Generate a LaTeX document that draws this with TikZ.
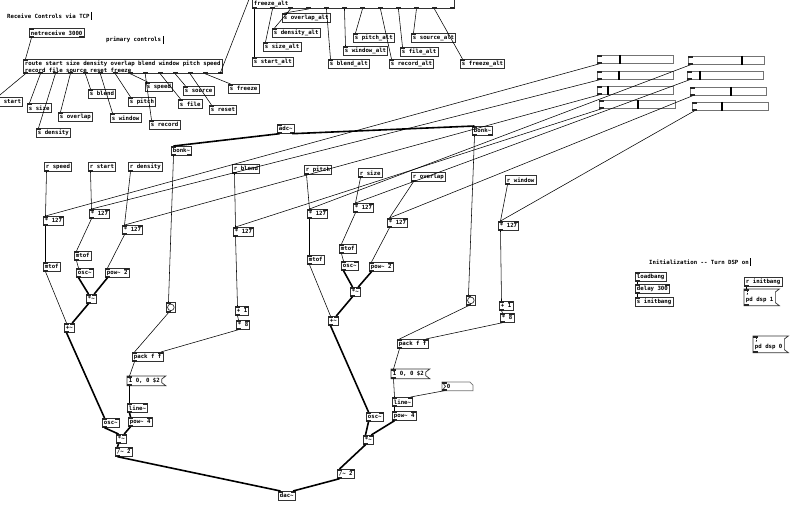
\documentclass[tikz,border=0pt]{standalone}
\usepackage{fontspec}
\newfontfamily\pdmono{DejaVu Sans Mono}
\usetikzlibrary{calc}

\newcommand\pdfont{\pdmono\bfseries\fontsize{5.7}{7}\selectfont}
\newcommand\pdtilde{\textasciitilde}

% inlets / outlets of a box, with named coordinates (box-i0, box-o0, ...)
\newcommand\pdrow[5]{%
  \pgfmathtruncatemacro\pdlast{#4-1}%
  \foreach \k in {0,...,\pdlast}{%
    \ifnum\pdlast=0 \def\pdfrac{0}\else\pgfmathsetmacro\pdfrac{\k/\pdlast}\fi
    \coordinate (#1-#3\k) at ($([xshift=2.5pt]#1.#2 west)!\pdfrac!([xshift=-2.5pt]#1.#2 east)$);
    \fill[nub] ([xshift=-2.5pt]#1-#3\k) rectangle ([xshift=2.5pt,yshift=#5]#1-#3\k);
  }}
\newcommand\pdnubs[3]{%
  \ifnum#2>0 \pdrow{#1}{north}{i}{#2}{-2pt}\fi
  \ifnum#3>0 \pdrow{#1}{south}{o}{#3}{2pt}\fi}
% message box outline
\newcommand\pdflag[1]{%
  \draw[pdline] (#1.north west) -- ([xshift=4pt]#1.north east) -- ([yshift=-3pt]#1.north east)
    -- ([yshift=3pt]#1.south east) -- ([xshift=4pt]#1.south east) -- (#1.south west) -- cycle;}

\tikzset{
  pdline/.style={draw=black!80, line width=0.7pt},
  pdobj/.style={pdline, font=\pdfont, inner xsep=1.6pt, inner ysep=0pt, minimum height=9pt, anchor=north west, align=left},
  pdmsg/.style={pdobj, draw=none},
  pdnote/.style={font=\pdfont, inner sep=0pt, anchor=west},
  pdslider/.style={draw=black!55, line width=0.8pt, minimum width=76pt, minimum height=8pt, inner sep=0pt, anchor=north west},
  nub/.style={fill=black!85},
  ctl/.style={line width=0.55pt},
  sig/.style={line width=1.6pt},
}

\begin{document}
\begin{tikzpicture}[x=1pt, y=-1pt]
\useasboundingbox (0,0) rectangle (800,505);
\fill[white] (0,0) rectangle (800,505);
\clip (0,0) rectangle (800,505);

% Comments
\node[pdnote] (ctcp) at (7,16) {Receive Controls via TCP};
\node[pdnote] (cprim) at (106,40) {primary controls};
\node[pdnote] (cinit) at (649,262) {Initialization -{}- Turn DSP on};
\foreach \c in {ctcp,cprim,cinit}
  \draw[line width=0.5pt] ([xshift=1.5pt,yshift=4pt]\c.east) -- ([xshift=1.5pt,yshift=-4pt]\c.east);

% Network input
\node[pdobj] (netr) at (29,28) {netreceive 3000}; \pdnubs{netr}{1}{2}
\node[pdobj, minimum height=14pt] (route) at (23,59) {route start size density overlap blend window pitch speed\\record file source reset freeze};
\pdnubs{route}{1}{14}
\node[pdobj, anchor=south west, minimum height=23pt] (ralt) at (252,9) {route start\_alt size\_alt density\_alt overlap\_alt blend\_alt\\window\_alt pitch\_alt record\_alt file\_alt source\_alt\\freeze\_alt};
\pdnubs{ralt}{1}{12}

% Senders
\foreach \nm/\pos/\txt in {sstart/{-5,97}/start, ssize/{27,103}/size, sdens/{36,128}/density, soverl/{58,112}/overlap,
    sblend/{88,89}/blend, swin/{110,113}/window, spitch/{128,97}/pitch, sspeed/{145,82}/speed, srec/{149,120}/record,
    sfile/{178,99}/file, ssrc/{183,86}/source, sreset/{209,105}/reset, sfrz/{228,84}/freeze}{
  \node[pdobj] (\nm) at (\pos) {s \txt}; \pdnubs{\nm}{1}{0}
}
\foreach \nm/\pos/\txt in {asstart/{252,57}/start, assize/{263,42}/size, asdens/{272,28}/density, asoverl/{282,13}/overlap,
    asblend/{328,59}/blend, aswin/{343,46}/window, aspitch/{353,33}/pitch, asrec/{389,59}/record,
    asfile/{400,47}/file, assrc/{411,33}/source, asfrz/{460,59}/freeze}{
  \node[pdobj] (\nm) at (\pos) {s \txt\_alt}; \pdnubs{\nm}{1}{0}
}

% Sliders
\foreach \nm/\pos/\h in {sl1/{597,55}/23, sl2/{597,71}/22, sl3/{597,86}/11, sl4/{599,100}/39,
    sr1/{688,56}/54, sr2/{687,71}/13, sr3/{690,87}/41, sr4/{692,102}/30}{
  \node[pdslider] (\nm) at (\pos) {};
  \draw[line width=1.3pt] ([xshift=\h]\nm.north west) -- ([xshift=\h]\nm.south west);
  \pdnubs{\nm}{1}{1}
}

% Input and onset detection
\node[pdobj] (adc) at (277,124) {adc\pdtilde}; \pdnubs{adc}{1}{2}
\node[pdobj] (bonka) at (171,146) {bonk\pdtilde}; \pdnubs{bonka}{1}{2}
\node[pdobj] (bonkb) at (472,126) {bonk\pdtilde}; \pdnubs{bonkb}{1}{2}
\foreach \nm/\pos in {bnga/{166,302}, bngb/{466,295}}{
  \node[pdobj, minimum width=9pt, minimum height=10pt, inner sep=0pt] (\nm) at (\pos) {};
  \draw[pdline] (\nm.center) circle (3.3pt);
  \pdnubs{\nm}{1}{1}
}

% Receivers and scaling
\foreach \nm/\pos/\txt in {rspeed/{44,162}/speed, rstart/{88,162}/start, rdens/{128,162}/density, rblend/{232,164}/blend,
    rpitch/{304,165}/pitch, rsize/{358,168}/size, roverl/{411,172}/overlap, rwin/{505,175}/window}{
  \node[pdobj] (\nm) at (\pos) {r \txt}; \pdnubs{\nm}{0}{1}
}
\foreach \nm/\pos in {mspeed/{43,216}, mstart/{89,209}, mdens/{122,225}, mblend/{233,227},
    mpitch/{307,209}, msize/{353,203}, moverl/{387,218}, mwin/{498,221}}{
  \node[pdobj] (\nm) at (\pos) {* 127}; \pdnubs{\nm}{2}{1}
}

% Left voice
\node[pdobj] (mtofa) at (43,262) {mtof}; \pdnubs{mtofa}{1}{1}
\node[pdobj] (mtofb) at (74,251) {mtof}; \pdnubs{mtofb}{1}{1}
\node[pdobj] (osca) at (76,268) {osc\pdtilde}; \pdnubs{osca}{2}{1}
\node[pdobj] (powa) at (105,268) {pow\pdtilde{} 2}; \pdnubs{powa}{2}{1}
\node[pdobj] (mula) at (86,294) {*\pdtilde}; \pdnubs{mula}{2}{1}
\node[pdobj] (adda) at (64,323) {+\pdtilde}; \pdnubs{adda}{2}{1}
\node[pdobj] (oscc) at (102,418) {osc\pdtilde}; \pdnubs{oscc}{2}{1}
\node[pdobj] (mulc) at (116,434) {*\pdtilde}; \pdnubs{mulc}{2}{1}
\node[pdobj] (diva) at (115,447) {/\pdtilde{} 2}; \pdnubs{diva}{2}{1}
\node[pdobj] (plusa) at (235,306) {+ 1}; \pdnubs{plusa}{2}{1}
\node[pdobj] (timesa) at (236,320) {* 8}; \pdnubs{timesa}{2}{1}
\node[pdobj] (packa) at (132,352) {pack f f}; \pdnubs{packa}{2}{1}
\node[pdmsg] (msga) at (127,376) {1 0, 0 \$2}; \pdflag{msga} \pdnubs{msga}{1}{1}
\node[pdobj] (linea) at (127,403) {line\pdtilde}; \pdnubs{linea}{2}{1}
\node[pdobj] (pwra) at (128,417) {pow\pdtilde{} 4}; \pdnubs{pwra}{2}{1}

% Right voice
\node[pdobj] (mtofc) at (307,255) {mtof}; \pdnubs{mtofc}{1}{1}
\node[pdobj] (mtofd) at (339,244) {mtof}; \pdnubs{mtofd}{1}{1}
\node[pdobj] (oscb) at (341,261) {osc\pdtilde}; \pdnubs{oscb}{2}{1}
\node[pdobj] (powb) at (369,262) {pow\pdtilde{} 2}; \pdnubs{powb}{2}{1}
\node[pdobj] (mulb) at (350,287) {*\pdtilde}; \pdnubs{mulb}{2}{1}
\node[pdobj] (addb) at (328,316) {+\pdtilde}; \pdnubs{addb}{2}{1}
\node[pdobj] (oscd) at (366,412) {osc\pdtilde}; \pdnubs{oscd}{2}{1}
\node[pdobj] (muld) at (363,435) {*\pdtilde}; \pdnubs{muld}{2}{1}
\node[pdobj] (divb) at (337,469) {/\pdtilde{} 2}; \pdnubs{divb}{2}{1}
\node[pdobj] (plusb) at (499,301) {+ 1}; \pdnubs{plusb}{2}{1}
\node[pdobj] (timesb) at (500,313) {* 8}; \pdnubs{timesb}{2}{1}
\node[pdobj] (packb) at (397,339) {pack f f}; \pdnubs{packb}{2}{1}
\node[pdmsg] (msgb) at (391,369) {1 0, 0 \$2}; \pdflag{msgb} \pdnubs{msgb}{1}{1}
\node[pdmsg, text width=27pt, minimum height=8pt] (numb) at (442,382) {\hspace{3pt}0};
\draw[pdline, draw=black!55] (numb.north west) -- ([xshift=-3pt]numb.north east) -- ([yshift=-3pt]numb.north east) -- (numb.south east) -- (numb.south west) -- cycle;
\draw[pdline] (numb.north west) -- ([xshift=3.5pt]numb.west) -- (numb.south west);
\pdnubs{numb}{1}{1}
\node[pdobj] (lineb) at (392,397) {line\pdtilde}; \pdnubs{lineb}{2}{1}
\node[pdobj] (pwrb) at (392,411) {pow\pdtilde{} 4}; \pdnubs{pwrb}{2}{1}

\node[pdobj] (dac) at (278,491) {dac\pdtilde}; \pdnubs{dac}{2}{0}

% Initialization
\node[pdobj] (lb) at (635,272) {loadbang}; \pdnubs{lb}{1}{1}
\node[pdobj] (del) at (635,284) {delay 300}; \pdnubs{del}{2}{1}
\node[pdobj] (sinit) at (635,297) {s initbang}; \pdnubs{sinit}{1}{0}
\node[pdobj] (rinit) at (744,277) {r initbang}; \pdnubs{rinit}{0}{1}
\node[pdmsg, minimum height=16pt] (dspon) at (744,289) {;\\pd dsp 1}; \pdflag{dspon} \pdnubs{dspon}{1}{1}
\node[pdmsg, minimum height=16pt] (dspoff) at (753,336) {;\\pd dsp 0}; \pdflag{dspoff} \pdnubs{dspoff}{1}{1}

% Control connections
\draw[ctl] (netr-o0) -- (route-i0);
\foreach \k/\dst in {0/sstart,1/ssize,2/sdens,3/soverl,4/sblend,5/swin,6/spitch,7/sspeed,8/srec,9/sfile,10/ssrc,11/sreset,12/sfrz}
  \draw[ctl] (route-o\k) -- (\dst-i0);
\draw[ctl] (route-o13) -- (ralt-i0);
\foreach \k/\dst in {0/asstart,1/assize,2/asdens,3/asoverl,4/asblend,5/aswin,6/aspitch,7/asrec,8/asfile,9/assrc,10/asfrz}
  \draw[ctl] (ralt-o\k) -- (\dst-i0);
\foreach \src/\dst in {rspeed/mspeed, rstart/mstart, rdens/mdens, rblend/mblend, rpitch/mpitch, rsize/msize, roverl/moverl, rwin/mwin,
    sl1/mspeed, sl2/mstart, sl3/mdens, sl4/mblend, sr1/mpitch, sr2/msize, sr3/moverl, sr4/mwin,
    mspeed/mtofa, mstart/mtofb, mdens/powa, mtofb/osca, mblend/plusa, plusa/timesa, bonka/bnga, bnga/packa, packa/msga, msga/linea,
    mpitch/mtofc, msize/mtofd, moverl/powb, mtofd/oscb, mwin/plusb, plusb/timesb, bonkb/bngb, bngb/packb, packb/msgb, msgb/lineb,
    lb/del, del/sinit, rinit/dspon}
  \draw[ctl] (\src-o0) -- (\dst-i0);
\draw[ctl] (mtofa-o0) -- (adda-i0);
\draw[ctl] (mtofc-o0) -- (addb-i0);
\draw[ctl] (timesa-o0) -- (packa-i1);
\draw[ctl] (timesb-o0) -- (packb-i1);
\draw[ctl] (numb-o0) -- (lineb-i1);

% Signal connections
\draw[sig] (adc-o0) -- (bonka-i0);
\draw[sig] (adc-o1) -- (bonkb-i0);
\foreach \src/\dst in {osca/mula, adda/oscc, oscc/mulc, linea/pwra, mulc/diva, diva/dac,
    oscb/mulb, addb/oscd, oscd/muld, lineb/pwrb, muld/divb}
  \draw[sig] (\src-o0) -- (\dst-i0);
\foreach \src/\dst in {powa/mula, mula/adda, pwra/mulc, powb/mulb, mulb/addb, pwrb/muld, divb/dac}
  \draw[sig] (\src-o0) -- (\dst-i1);

\end{tikzpicture}
\end{document}
